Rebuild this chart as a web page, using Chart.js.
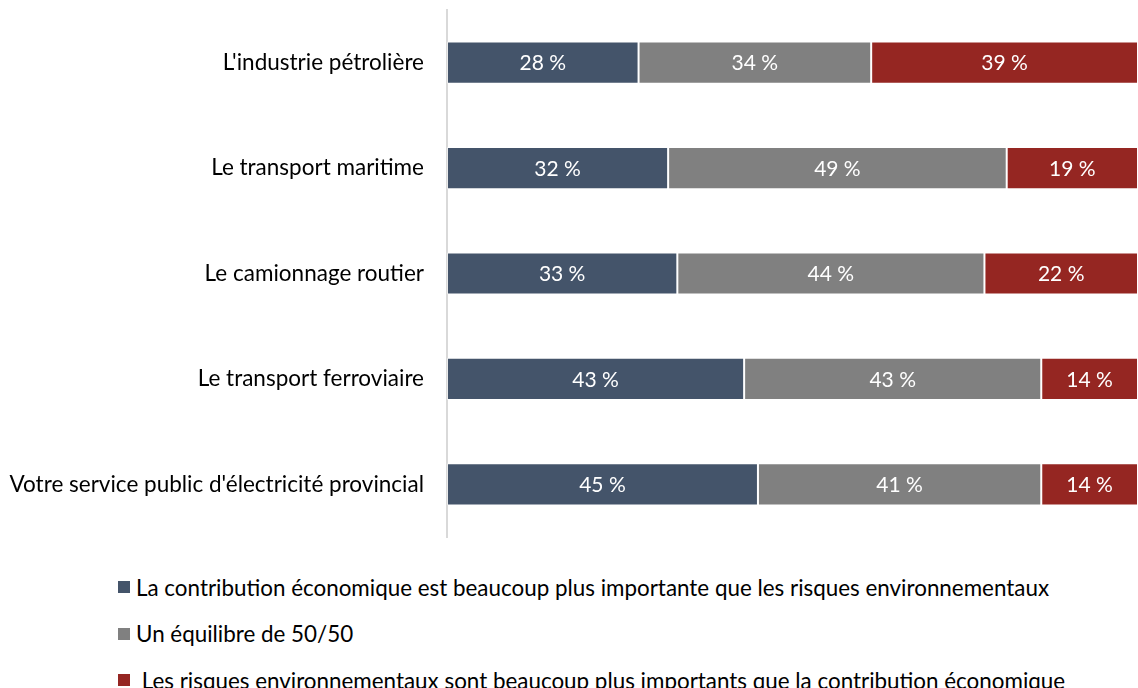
<!DOCTYPE html>
<html lang="fr">
<head>
<meta charset="UTF-8">
<title>Contribution économique vs risques environnementaux</title>
<style>
  body {
    margin: 0;
    background: #fff;
    overflow: hidden;
    font-family: Lato, "Noto Sans", sans-serif;
  }
  #wrap {
    position: relative;
    width: 1138px;
    height: 688px;
  }
  #chartBox {
    position: absolute;
    left: 0;
    top: 0;
    width: 1138px;
    height: 547px;
  }
  #legend {
    position: absolute;
    left: 118px;
    top: 564px;
    font-size: 22.4px;
    color: #000;
  }
  .leg-item {
    display: flex;
    align-items: center;
    height: 46.5px;
    white-space: pre;
  }
  .leg-item span.box {
    display: inline-block;
    width: 12px;
    height: 12px;
    margin-right: 6px;
  }
</style>
<script src="https://cdn.jsdelivr.net/npm/chart.js"></script>
</head>
<body>
<div id="wrap">
  <div id="chartBox"><canvas id="chart"></canvas></div>
  <div id="legend"></div>
</div>

<script>
// categories (top to bottom)
var categories = [
  "L'industrie pétrolière",
  "Le transport maritime",
  "Le camionnage routier",
  "Le transport ferroviaire",
  "Votre service public d'électricité provincial"
];

// percentages as printed on the bars
var economique = [28, 32, 33, 43, 45];
var equilibre  = [34, 49, 44, 43, 41];
var risques    = [39, 19, 22, 14, 14];

var seriesNames = [
  "La contribution économique est beaucoup plus importante que les risques environnementaux",
  "Un équilibre de 50/50",
  " Les risques environnementaux sont beaucoup plus importants que la contribution économique"
];
var seriesColors = ['#44546A', '#808080', '#952622'];
var seriesValues = [economique, equilibre, risques];

// 100% stacked: each row is scaled to fill the whole width
var rowTotals = categories.map(function(c, i) {
  return economique[i] + equilibre[i] + risques[i];
});

var datasets = seriesValues.map(function(vals, k) {
  return {
    label: seriesNames[k],
    raw: vals,
    data: vals.map(function(v, i) { return v / rowTotals[i] * 100; }),
    backgroundColor: seriesColors[k],
    borderColor: 'rgba(255,255,255,0.45)',
    borderWidth: 1,
    borderSkipped: false,
    categoryPercentage: 1,
    barPercentage: 0.4
  };
});

// value labels inside the bars
var barLabels = {
  id: 'barLabels',
  afterDatasetsDraw: function(chart) {
    var ctx = chart.ctx;
    ctx.save();
    ctx.fillStyle = '#fff';
    ctx.font = '21px Lato, "Noto Sans", sans-serif';
    ctx.textAlign = 'center';
    ctx.textBaseline = 'middle';
    chart.data.datasets.forEach(function(ds, k) {
      chart.getDatasetMeta(k).data.forEach(function(bar, i) {
        var p = bar.getCenterPoint();
        ctx.fillText(ds.raw[i] + ' %', p.x, p.y + 1);
      });
    });
    ctx.restore();
  }
};

new Chart(document.getElementById('chart'), {
  type: 'bar',
  data: { labels: categories, datasets: datasets },
  plugins: [barLabels],
  options: {
    indexAxis: 'y',
    responsive: true,
    maintainAspectRatio: false,
    animation: false,
    layout: { padding: { top: 10, right: 0, bottom: 10, left: 0 } },
    plugins: {
      legend: { display: false },
      tooltip: { enabled: false }
    },
    scales: {
      x: {
        stacked: true,
        display: false,
        min: 0,
        max: 100
      },
      y: {
        stacked: true,
        afterFit: function(scale) {
          scale.width = 447;
          scale.paddingTop = 0;
          scale.paddingBottom = 0;
        },
        grid: { display: false, drawTicks: false },
        border: { display: true, color: '#d9d9d9', width: 2 },
        ticks: {
          color: '#000',
          padding: 23,
          font: { family: 'Lato, "Noto Sans", sans-serif', size: 22.5 }
        }
      }
    }
  }
});

// legend built from the same series
var legend = document.getElementById('legend');
seriesNames.forEach(function(name, k) {
  var item = document.createElement('div');
  item.className = 'leg-item';
  var box = document.createElement('span');
  box.className = 'box';
  box.style.background = seriesColors[k];
  var txt = document.createElement('span');
  txt.textContent = name;
  item.appendChild(box);
  item.appendChild(txt);
  legend.appendChild(item);
});
</script>
</body>
</html>
